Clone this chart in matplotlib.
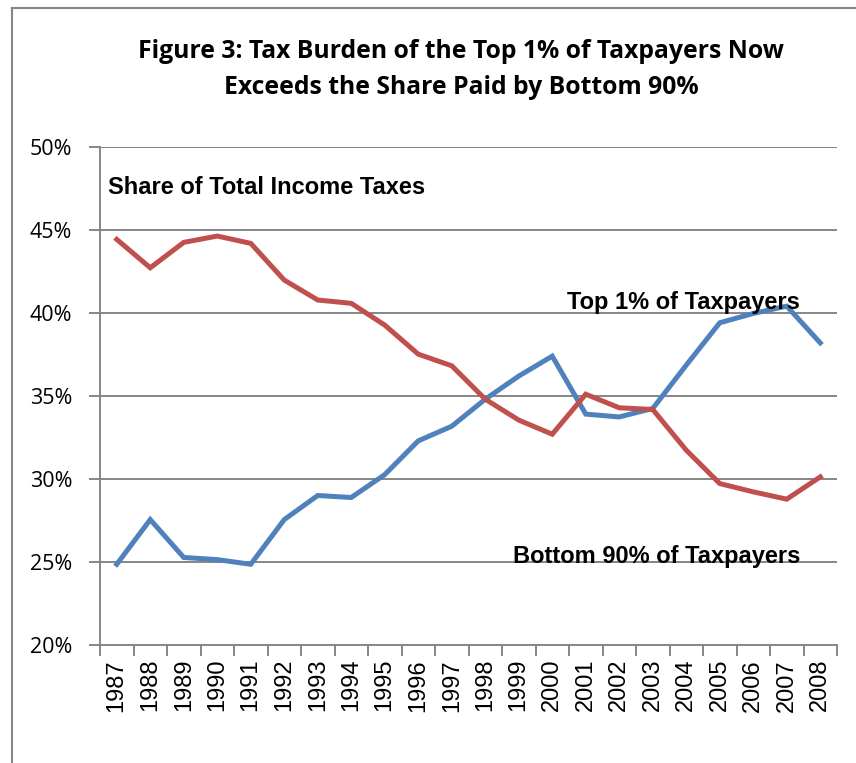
import numpy as np
import matplotlib as mpl
mpl.use('Agg')
import matplotlib.pyplot as plt
from matplotlib.lines import Line2D

#----- DATA -----
years = ['1987','1988','1989','1990','1991','1992','1993','1994','1995','1996','1997',
         '1998','1999','2000','2001','2002','2003','2004','2005','2006','2007','2008']
top1 = [24.86, 27.55, 25.27, 25.14, 24.86, 27.55, 29.00, 28.88, 30.26, 32.29, 33.17,
        34.80, 36.19, 37.39, 33.90, 33.73, 34.24, 36.85, 39.40, 39.96, 40.40, 38.19]
bottom90 = [44.42, 42.71, 44.24, 44.62, 44.18, 41.97, 40.77, 40.57, 39.26, 37.51, 36.81,
            34.80, 33.54, 32.69, 35.10, 34.28, 34.18, 31.73, 29.72, 29.22, 28.78, 30.12]
yticks = [20, 25, 30, 35, 40, 45, 50]

#----- FIGURE -----
blue = '#4F81BD'
red = '#C0504D'
grid_col = '#868686'

W, H = 856, 763
fig = plt.figure(figsize=[W/100., H/100.], dpi=100)

# outer chart frame (left and top edges visible)
fig.add_artist(Line2D([12/W, 12/W], [0, 1-8/H], color=grid_col, lw=1.5))
fig.add_artist(Line2D([12/W, 1], [1-8/H, 1-8/H], color=grid_col, lw=1.5))

ax = fig.add_axes([100/W, 1-645/H, 737/W, (645-146.7)/H])

x = np.arange(len(years))
ax.plot(x, top1, color=blue, lw=3.6, solid_joinstyle='miter', zorder=3)
ax.plot(x, bottom90, color=red, lw=3.6, solid_joinstyle='miter', zorder=3)

ax.set_xlim(-0.5, len(years)-0.5)
ax.set_ylim(20, 50)

ax.set_yticks(yticks)
ax.set_yticklabels(['%d%%' % v for v in yticks], family='Open Sans', fontsize=15.5)
ax.yaxis.grid(True, color=grid_col, lw=1.4)
ax.set_axisbelow(True)

ax.set_xticks(np.arange(len(years)+1)-0.5)
ax.set_xticklabels([])
ax.set_xticks(x, minor=True)
ax.set_xticklabels(years, minor=True, rotation=90, family='Liberation Sans', fontsize=17)
ax.tick_params(axis='x', which='major', length=8, width=1.4, color=grid_col, direction='out')
ax.tick_params(axis='x', which='minor', length=0, pad=10)
ax.tick_params(axis='y', length=8, width=1.4, color=grid_col, direction='out', pad=12)

for side in ['top', 'right']:
    ax.spines[side].set_visible(False)
for side in ['left', 'bottom']:
    ax.spines[side].set_color(grid_col)
    ax.spines[side].set_linewidth(1.4)

lbl = dict(family='Liberation Sans', fontweight='bold', fontsize=17, color='black')
ax.text(108/W, 1-188/H, 'Share of Total Income Taxes', transform=fig.transFigure,
        ha='left', va='center', **lbl)
ax.text(800/W, 1-303/H, 'Top 1% of Taxpayers', transform=fig.transFigure,
        ha='right', va='center', zorder=5, **lbl)
ax.text(800/W, 1-557/H, 'Bottom 90% of Taxpayers', transform=fig.transFigure,
        ha='right', va='center', zorder=5, **lbl)

fig.text(461/W, 1-52/H, 'Figure 3: Tax Burden of the Top 1% of Taxpayers Now',
         ha='center', va='center', family='Open Sans', fontweight='bold', fontsize=17.8)
fig.text(461/W, 1-87/H, 'Exceeds the Share Paid by Bottom 90%',
         ha='center', va='center', family='Open Sans', fontweight='bold', fontsize=17.8)

fig.savefig('out.png', dpi=100)
plt.close(fig)
